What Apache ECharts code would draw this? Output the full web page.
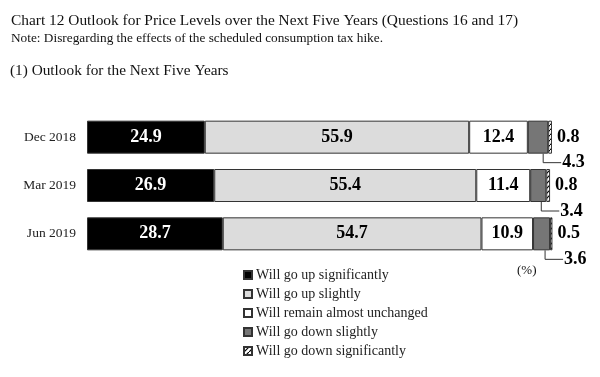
<!DOCTYPE html>
<html>
<head>
<meta charset="utf-8">
<script src="https://cdn.jsdelivr.net/npm/echarts@6/dist/echarts.min.js"></script>
<style>
  html, body { margin: 0; padding: 0; background: #fff; }
  #chart { width: 600px; height: 377px; }
</style>
</head>
<body>
<div id="chart"></div>
<script>
const categories = ['Dec 2018', 'Mar 2019', 'Jun 2019']
const seriesNames = [
  'Will go up significantly',
  'Will go up slightly',
  'Will remain almost unchanged',
  'Will go down slightly',
  'Will go down significantly'
]
const upSig = [24.9, 26.9, 28.7]
const upSlight = [55.9, 55.4, 54.7]
const unchanged = [12.4, 11.4, 10.9]
const downSlight = [4.3, 3.4, 3.6]
const downSig = [0.8, 0.8, 0.5]

const serif = "'Liberation Serif', 'Times New Roman', serif"

// diagonal hatch for "go down significantly"
function hatch() {
  const c = document.createElement('canvas')
  c.width = 5
  c.height = 5
  const ctx = c.getContext('2d')
  ctx.fillStyle = '#fff'
  ctx.fillRect(0, 0, 5, 5)
  ctx.strokeStyle = '#000'
  ctx.lineWidth = 1.2
  ctx.beginPath()
  ctx.moveTo(0, 5)
  ctx.lineTo(5, 0)
  ctx.stroke()
  return c
}

const chart = echarts.init(document.getElementById('chart'))

const inLabel = (color) => ({
  show: true,
  position: 'inside',
  color: color,
  fontFamily: serif,
  fontWeight: 'bold',
  fontSize: 18
})

const fills = ['#000000', '#dcdcdc', '#ffffff', '#767676', { image: hatch(), repeat: 'repeat' }]
const values = [upSig, upSlight, unchanged, downSlight, downSig]

const barSeries = values.map((arr, i) => {
  let label = { show: false }
  if (i === 0) label = inLabel('#fff')
  if (i === 1 || i === 2) label = inLabel('#000')
  if (i === 4) {
    label = {
      show: true,
      position: 'right',
      distance: 5,
      color: '#000',
      fontFamily: serif,
      fontWeight: 'bold',
      fontSize: 18
    }
  }
  return {
    name: seriesNames[i],
    type: 'bar',
    stack: 'all',
    barWidth: 33,
    itemStyle: { color: fills[i], borderColor: '#333', borderWidth: 1 },
    label: label,
    silent: true,
    data: arr
  }
})

// leader lines for "go down slightly"
const leaderData = categories.map((c, i) => [
  upSig[i] + upSlight[i] + unchanged[i] + downSlight[i], i, downSlight[i]
])

const leaderSeries = {
  type: 'custom',
  silent: true,
  data: leaderData,
  renderItem: function(params, api) {
    const p = api.coord([api.value(0), api.value(1)])
    const x = p[0] - 5
    const y0 = p[1] + 16.5
    const y1 = p[1] + 25.5
    return {
      type: 'group',
      children: [
        {
          type: 'polyline',
          shape: { points: [[x, y0], [x, y1], [x + 18, y1]] },
          style: { stroke: '#333', lineWidth: 1, fill: null }
        },
        {
          type: 'text',
          x: x + 19,
          y: y1,
          style: {
            text: String(api.value(2)),
            fill: '#000',
            font: 'bold 18px ' + serif,
            verticalAlign: 'middle'
          }
        }
      ]
    }
  }
}

const option = {
  animation: false,
  backgroundColor: '#fff',
  grid: { left: 87, width: 473, top: 113, height: 145 },
  xAxis: { type: 'value', min: 0, max: 100, show: false },
  yAxis: {
    type: 'category',
    inverse: true,
    data: categories,
    axisLine: { show: false },
    axisTick: { show: false },
    axisLabel: { margin: 11, color: '#222', fontFamily: serif, fontSize: 13.5 }
  },
  legend: {
    orient: 'vertical',
    left: 238,
    top: 263,
    itemWidth: 8,
    itemHeight: 8,
    itemGap: 5,
    icon: 'rect',
    selectedMode: false,
    data: seriesNames,
    textStyle: { color: '#222', fontFamily: serif, fontSize: 14, padding: [0, 0, 0, -1] }
  },
  graphic: [
    {
      type: 'text', left: 11, top: 13,
      style: { text: 'Chart 12 Outlook for Price Levels over the Next Five Years (Questions 16 and 17)', font: '15.4px ' + serif, fill: '#111' }
    },
    {
      type: 'text', left: 11, top: 32,
      style: { text: 'Note: Disregarding the effects of the scheduled consumption tax hike.', font: '13.3px ' + serif, fill: '#111' }
    },
    {
      type: 'text', left: 10, top: 63,
      style: { text: '(1) Outlook for the Next Five Years', font: '15.3px ' + serif, fill: '#111' }
    },
    {
      type: 'text', left: 517, top: 264,
      style: { text: '(%)', font: '13px ' + serif, fill: '#111' }
    }
  ],
  series: barSeries.concat([leaderSeries])
}

chart.setOption(option)
</script>
</body>
</html>
